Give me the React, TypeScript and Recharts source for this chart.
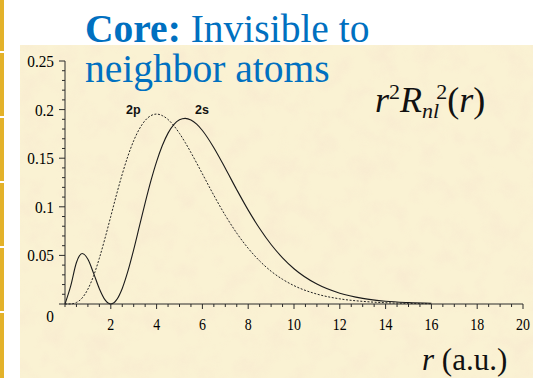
import { LineChart, Line, XAxis, YAxis } from "recharts";

// radial distance in atomic units
const radius = [
  0, 0.25, 0.5, 0.75, 1, 1.25, 1.5, 1.75, 2, 2.25, 2.5, 2.75, 3, 3.25, 3.5,
  3.75, 4, 4.25, 4.5, 4.75, 5, 5.25, 5.5, 5.75, 6, 6.5, 7, 7.5, 8, 8.5, 9, 9.5,
  10, 11, 12, 13, 14, 15, 16,
];
// r^2 R_nl^2 for the 2s orbital (solid)
const density2s = [
  0, 0.0186, 0.0427, 0.0519, 0.046, 0.0315, 0.0157, 0.0042, 0, 0.0042, 0.016,
  0.034, 0.056, 0.08, 0.104, 0.1266, 0.1465, 0.163, 0.1758, 0.1845, 0.1895,
  0.191, 0.1893, 0.185, 0.1785, 0.1608, 0.1396, 0.1176, 0.0966, 0.0777, 0.0612,
  0.0475, 0.0363, 0.0205, 0.0111, 0.0058, 0.0029, 0.0015, 0.0007,
];
// r^2 R_nl^2 for the 2p orbital (dotted)
const density2p = [
  0, 0.0001, 0.0016, 0.0062, 0.0153, 0.0291, 0.0471, 0.0679, 0.0902, 0.1126,
  0.1336, 0.1523, 0.168, 0.1802, 0.1888, 0.1938, 0.1954, 0.1938, 0.1898,
  0.1835, 0.1755, 0.1661, 0.1558, 0.145, 0.1339, 0.1118, 0.0912, 0.0729,
  0.0573, 0.0443, 0.0337, 0.0254, 0.0189, 0.0102, 0.0053, 0.0027, 0.0013,
  0.0006, 0.0003,
];

const xTicks = Array.from({ length: 41 }, (_, i) => i * 0.5);
const yTicks = Array.from({ length: 26 }, (_, i) => i / 100);

const data = radius.map((r, i) => ({ r, s2: density2s[i], p2: density2p[i] }));

const SERIF = "'Liberation Serif', 'Times New Roman', serif";
const INK = "#2a2a2a";

function XTick({ x, y, payload }: any) {
  const v = payload.value;
  const major = v > 0 && v % 2 === 0;
  return (
    <g>
      <line x1={x} x2={x} y1={y} y2={y + (major ? 5 : 3)} stroke={INK} />
      {major && (
        <text
          transform={`translate(${x},${y + 26}) scale(0.82,1)`}
          textAnchor="middle"
          fontSize={17}
          fontFamily={SERIF}
          fill="#000"
        >
          {v}
        </text>
      )}
    </g>
  );
}

function YTick({ x, y, payload }: any) {
  const hundredths = Math.round(payload.value * 100);
  const major = hundredths % 5 === 0;
  const label = String(hundredths / 100);
  return (
    <g>
      <line x1={x - (major ? 6 : 3)} x2={x} y1={y} y2={y} stroke={INK} />
      {major && (
        <text
          transform={`translate(${x - 11},${y + (hundredths === 0 ? 18 : 6)}) scale(0.9,1)`}
          textAnchor="end"
          fontSize={17}
          fontFamily={SERIF}
          fill="#000"
        >
          {label}
        </text>
      )}
    </g>
  );
}

const strip = [
  [0, 51],
  [53, 116],
  [118, 181],
  [183, 246],
  [248, 311],
  [313, 378],
];

export default function App() {
  return (
    <div
      style={{
        position: "absolute",
        left: 0,
        top: 0,
        width: 533,
        height: 378,
        background: "#ffffff",
        overflow: "hidden",
      }}
    >
      {strip.map(([a, b]) => (
        <div
          key={a}
          style={{
            position: "absolute",
            left: 0,
            top: a,
            width: 4,
            height: b - a,
            background: "#E3B22A",
          }}
        />
      ))}
      {/* parchment panel behind the plot */}
      <svg
        width={513}
        height={333}
        style={{ position: "absolute", left: 20, top: 45 }}
      >
        <defs>
          <filter id="mottle" x="0" y="0" width="100%" height="100%">
            <feTurbulence type="fractalNoise" baseFrequency="0.045" numOctaves={3} seed={7} />
            <feColorMatrix
              type="matrix"
              values="0 0 0 0 0.93  0 0 0 0 0.78  0 0 0 0 0.62  1.6 0 0 0 -0.68"
            />
          </filter>
        </defs>
        <rect width={513} height={333} fill="#FAF2D3" />
        <rect width={513} height={333} filter="url(#mottle)" opacity={0.6} />
      </svg>
      <div style={{ position: "absolute", left: 0, top: 0 }}>
        <LineChart
          width={533}
          height={378}
          data={data}
          margin={{ top: 61, right: 10, left: 15, bottom: 44 }}
        >
          <XAxis
            dataKey="r"
            type="number"
            domain={[0, 20]}
            ticks={xTicks}
            interval={0}
            height={30}
            tickSize={0}
            tickMargin={0}
            tickLine={false}
            axisLine={{ stroke: INK }}
            tick={(p: any) => <XTick {...p} />}
          />
          <YAxis
            type="number"
            domain={[0, 0.25]}
            ticks={yTicks}
            interval={0}
            width={50}
            tickSize={0}
            tickMargin={0}
            tickLine={false}
            axisLine={{ stroke: INK }}
            tick={(p: any) => <YTick {...p} />}
          />
          <Line
            type="monotone"
            dataKey="p2"
            stroke="#222"
            strokeWidth={1}
            strokeDasharray="2 1.6"
            dot={false}
            isAnimationActive={false}
          />
          <Line
            type="monotone"
            dataKey="s2"
            stroke="#1a1a1a"
            strokeWidth={1.1}
            dot={false}
            isAnimationActive={false}
          />
        </LineChart>
      </div>
      <svg
        width={533}
        height={378}
        style={{ position: "absolute", left: 0, top: 0, pointerEvents: "none" }}
      >
        <text x={85} y={42} fontFamily={SERIF} fontSize={39.5} fill="#0070C0">
          <tspan fontWeight="bold">Core:</tspan>
          {" Invisible to"}
        </text>
        <text x={85} y={82} fontFamily={SERIF} fontSize={39.5} fill="#0070C0">
          neighbor atoms
        </text>
        <text
          fontFamily="'Liberation Sans', Arial, sans-serif"
          fontWeight="bold"
          fontSize={12.5}
          fill="#111"
        >
          <tspan x={126} y={114}>2p</tspan>
          <tspan x={195} y={114}>2s</tspan>
        </text>
        <text x={375} y={112} fontFamily={SERIF} fontSize={36} fill="#111">
          <tspan fontStyle="italic">r</tspan>
          <tspan y={99} fontSize={22}>2</tspan>
          <tspan y={112} fontStyle="italic">R</tspan>
          <tspan y={118} fontSize={22} fontStyle="italic">nl</tspan>
          <tspan y={99} dx={-3} fontSize={22}>2</tspan>
          <tspan y={112}>(</tspan>
          <tspan fontStyle="italic">r</tspan>
          <tspan>)</tspan>
        </text>
        <text x={422} y={370} fontFamily={SERIF} fontSize={31} fill="#111">
          <tspan fontStyle="italic">r</tspan>
          {" (a.u.)"}
        </text>
      </svg>
    </div>
  );
}
